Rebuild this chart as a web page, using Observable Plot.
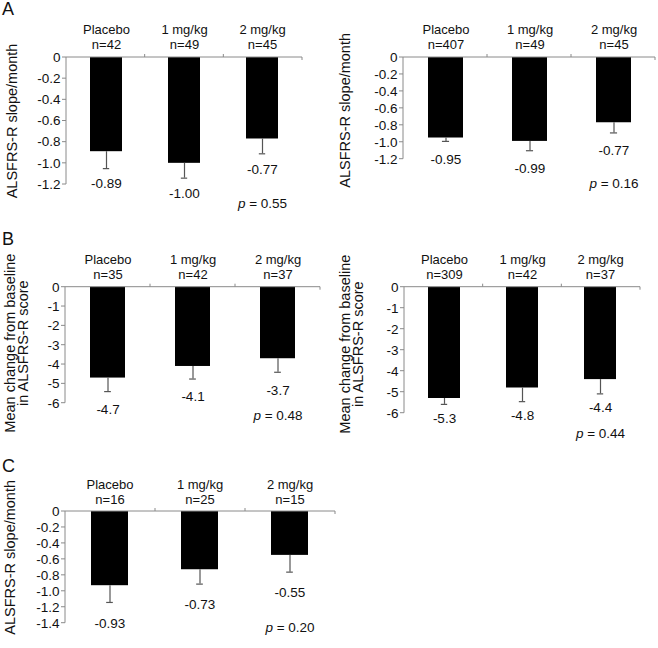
<!DOCTYPE html>
<html><head><meta charset="utf-8">
<script src="https://cdn.jsdelivr.net/npm/d3@7"></script>
<script src="https://cdn.jsdelivr.net/npm/@observablehq/plot@0.6"></script>
<style>
body{margin:0;background:#fff;}
#wrap{position:relative;width:658px;height:648px;font-family:"Liberation Sans",Arial,sans-serif;}
.panel{position:absolute;}
#letters{position:absolute;left:0;top:0;pointer-events:none;}
</style></head><body><div id="wrap"></div>
<script>
// ---- data ----
const groups = ["Placebo", "1 mg/kg", "2 mg/kg"];

const nA1 = [42, 49, 45];
const meanA1 = [-0.89, -1.00, -0.77];
const seA1 = [0.16, 0.14, 0.14];
const pA1 = "0.55";

const nA2 = [407, 49, 45];
const meanA2 = [-0.95, -0.99, -0.77];
const seA2 = [0.04, 0.11, 0.12];
const pA2 = "0.16";

const nB1 = [35, 42, 37];
const meanB1 = [-4.7, -4.1, -3.7];
const seB1 = [0.7, 0.65, 0.7];
const pB1 = "0.48";

const nB2 = [309, 42, 37];
const meanB2 = [-5.3, -4.8, -4.4];
const seB2 = [0.28, 0.65, 0.68];
const pB2 = "0.44";

const nC = [16, 25, 15];
const meanC = [-0.93, -0.73, -0.55];
const seC = [0.21, 0.18, 0.21];
const pC = "0.20";

const ticksA = [0, -0.2, -0.4, -0.6, -0.8, -1.0, -1.2];
const ticksB = [0, -1, -2, -3, -4, -5, -6];
const ticksC = [0, -0.2, -0.4, -0.6, -0.8, -1.0, -1.2, -1.4];

const titleSlope = "ALSFRS-R slope/month";
const titleChange = "Mean change from baseline\nin ALSFRS-R score";
const panelLetters = ["A", "B", "C"];

// ---- layout ----
const FONT = '"Liberation Sans", Arial, sans-serif';
const AXIS = "#8a8a8a";
const ERR = "#555";

const panels = [
  {n: nA1, mean: meanA1, se: seA1, p: pA1, ticks: ticksA, title: titleSlope, dec: 2, tf: d => d === 0 ? "0" : d.toFixed(1),
   left: 0, top: 0, w: 330, h: 220, mL: 66, mR: 28, mT: 57, mB: 36, tDx: -54, tDy: 0, catDy: -9, valDy: 15.5, pDy: 23},
  {n: nA2, mean: meanA2, se: seA2, p: pA2, ticks: ticksA, title: titleSlope, dec: 2, tf: d => d === 0 ? "0" : d.toFixed(1),
   left: 330, top: 0, w: 328, h: 220, mL: 73, mR: 3, mT: 57, mB: 61.3, tDx: -58, tDy: 2, catDy: -9, valDy: 18, pDy: 29},
  {n: nB1, mean: meanB1, se: seB1, p: pB1, ticks: ticksB, title: titleChange, dec: 1, tf: d => String(d),
   left: 0, top: 220, w: 330, h: 215, mL: 65, mR: 10, mT: 66.7, mB: 32.3, tDx: -48.5, tDy: -2, catDy: -8, valDy: 18, pDy: 17},
  {n: nB2, mean: meanB2, se: seB2, p: pB2, ticks: ticksB, title: titleChange, dec: 1, tf: d => String(d),
   left: 330, top: 220, w: 328, h: 225, mL: 74, mR: 18, mT: 66.7, mB: 32.3, tDx: -52.5, tDy: -6, catDy: -8, valDy: 14, pDy: 25},
  {n: nC, mean: meanC, se: seC, p: pC, ticks: ticksC, title: titleSlope, dec: 2, tf: d => d === 0 ? "0" : d.toFixed(1),
   left: 0, top: 440, w: 340, h: 208, mL: 65, mR: 5, mT: 71, mB: 25.3, tDx: -55, tDy: -10, catDy: -8, valDy: 21, pDy: 9}
];

const PAD = 0.585;

function axisLines(ticks, nCats) {
  return (index, scales, values, dims) => {
    const {width, height, marginLeft: l, marginRight: r, marginTop: t, marginBottom: b} = dims;
    const g = d3.create("svg:g").attr("stroke", AXIS).attr("fill", "none");
    const y0 = scales.y(0);
    g.append("line").attr("x1", l).attr("x2", l).attr("y1", t).attr("y2", height - b);
    g.append("line").attr("x1", l).attr("x2", width - r).attr("y1", y0).attr("y2", y0);
    const step = (width - l - r) / nCats;
    for (let k = 1; k < nCats; k++) {
      const x = l + k * step;
      g.append("line").attr("x1", x).attr("x2", x).attr("y1", y0).attr("y2", y0 - 3);
    }
    g.append("line").attr("x1", width - r).attr("x2", width - r).attr("y1", y0).attr("y2", y0 + 3);
    for (const v of ticks) {
      const y = scales.y(v);
      g.append("line").attr("x1", l - 4).attr("x2", l).attr("y1", y).attr("y2", y);
    }
    return g.node();
  };
}

const wrap = document.getElementById("wrap");

for (const P of panels) {
  const data = groups.map((g, i) => ({group: g, n: P.n[i], mean: P.mean[i], se: P.se[i]}));
  const step = (P.w - P.mL - P.mR) / groups.length;
  const bw = step * (1 - PAD);
  const cap = Math.max(0, (bw - 7) / 2);
  const ymin = d3.min(P.ticks);
  const chart = Plot.plot({
    width: P.w, height: P.h,
    marginLeft: P.mL, marginRight: P.mR, marginTop: P.mT, marginBottom: P.mB,
    x: {type: "band", domain: groups, paddingInner: PAD, paddingOuter: PAD / 2, axis: null},
    y: {domain: [ymin, 0], axis: null},
    style: {fontFamily: FONT, fontSize: "13.5px", color: "#111", background: "transparent", overflow: "visible"},
    marks: [
      Plot.barY(data, {x: "group", y: "mean", fill: "#000"}),
      Plot.ruleX(data, {x: "group", y1: "mean", y2: d => d.mean - d.se, stroke: ERR, strokeWidth: 1.2}),
      Plot.tickY(data, {x: "group", y: d => d.mean - d.se, stroke: ERR, strokeWidth: 1.2, insetLeft: cap, insetRight: cap}),
      axisLines(P.ticks, groups.length),
      Plot.axisY({ticks: P.ticks, tickSize: 0, tickPadding: 6, tickFormat: P.tf, label: null}),
      Plot.text(data, {x: "group", text: d => `${d.group}\nn=${d.n}`, frameAnchor: "top", lineAnchor: "bottom", dy: P.catDy, fontSize: 13, lineHeight: 1.15, fill: "#111"}),
      Plot.text(data, {x: "group", y: d => d.mean - d.se, text: d => d.mean.toFixed(P.dec), dy: P.valDy, lineAnchor: "middle", fill: "#111"}),
      Plot.text([P.p], {x: () => groups[groups.length - 1], frameAnchor: "bottom", dy: P.pDy, text: d => `p = ${d}`, fill: "#111"}),
      Plot.text([P.title], {frameAnchor: "left", textAnchor: "middle", lineAnchor: "middle", rotate: -90, dx: P.tDx, dy: P.tDy, text: d => d, lineHeight: 0.95, fontSize: 14.5, fill: "#111"})
    ]
  });
  // italic "p"
  chart.querySelectorAll("text").forEach(t => {
    const s = t.textContent;
    if (/^p = /.test(s) && t.childElementCount === 0) {
      t.textContent = "";
      const ns = "http://www.w3.org/2000/svg";
      const it = document.createElementNS(ns, "tspan");
      it.setAttribute("font-style", "italic");
      it.textContent = "p";
      t.appendChild(it);
      t.appendChild(document.createTextNode(s.slice(1)));
    }
  });
  const div = document.createElement("div");
  div.className = "panel";
  div.style.left = P.left + "px";
  div.style.top = P.top + "px";
  div.appendChild(chart);
  wrap.appendChild(div);
}

// panel letters
const letterY = [15, 245, 472];
const svg = d3.create("svg").attr("id", "letters").attr("width", 658).attr("height", 648);
svg.selectAll("text").data(panelLetters).join("text")
  .attr("x", 2).attr("y", (d, i) => letterY[i])
  .attr("font-family", FONT).attr("font-size", 18).attr("fill", "#111")
  .text(d => d);
wrap.appendChild(svg.node());
</script>
</body></html>
